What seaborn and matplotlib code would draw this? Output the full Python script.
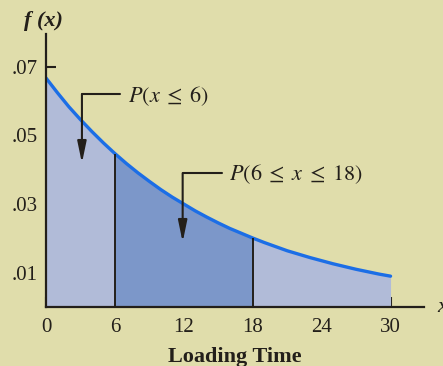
import matplotlib
matplotlib.use('Agg')
import matplotlib.pyplot as plt
import seaborn as sns
import pandas as pd

# values (density of loading time)
loading_time = list(range(0, 31))
density = [0.0667, 0.0624, 0.0583, 0.0546, 0.0511, 0.0478, 0.0447, 0.0418,
           0.0391, 0.0366, 0.0342, 0.0320, 0.0300, 0.0280, 0.0262, 0.0245,
           0.0229, 0.0215, 0.0201, 0.0188, 0.0176, 0.0164, 0.0154, 0.0144,
           0.0135, 0.0126, 0.0118, 0.0110, 0.0103, 0.0096, 0.0090]
x_ticks = [0, 6, 12, 18, 24, 30]
y_ticks = [0.01, 0.03, 0.05, 0.07]
y_tick_labels = ['.01', '.03', '.05', '.07']
lo, hi = 6, 18

df = pd.DataFrame({'x': loading_time, 'f': density})

bg = '#e0ddab'
light = '#b1bbd8'
dark = '#7c97c9'
curve = '#1c6ee6'
ink = '#231f1a'

sns.set_style('ticks')
plt.rcParams['font.family'] = ['Liberation Serif', 'DejaVu Serif']
plt.rcParams['mathtext.fontset'] = 'stix'

fig = plt.figure(figsize=(4.43, 3.66), dpi=100)
fig.patch.set_facecolor(bg)
ax = fig.add_axes([0.1038, 0.161, 0.853, 0.746])
ax.set_facecolor(bg)

ax.fill_between(df['x'], df['f'], color=light, lw=0)
mid = df[(df['x'] >= lo) & (df['x'] <= hi)]
ax.fill_between(mid['x'], mid['f'], color=dark, lw=0)
sns.lineplot(data=df, x='x', y='f', ax=ax, color=curve, lw=2.4)
for v in (lo, hi):
    ax.vlines(v, 0, df.loc[df['x'] == v, 'f'].iloc[0], color=ink, lw=1.4)

ax.set_xlim(0, 32.9)
ax.set_ylim(0, 0.0795)
ax.set_xticks(x_ticks)
ax.set_yticks(y_ticks)
ax.set_yticklabels(y_tick_labels)
ax.tick_params(direction='in', length=7, width=1.5, colors=ink, labelsize=15, pad=6)
ax.tick_params(axis='x', pad=8)
for s in ('top', 'right'):
    ax.spines[s].set_visible(False)
for s in ('left', 'bottom'):
    ax.spines[s].set_linewidth(1.6)
    ax.spines[s].set_color(ink)
ax.set_xlabel('')
ax.set_ylabel('')

# annotations
ah = dict(arrowstyle='-|>,head_length=1.3,head_width=0.27', color=ink, lw=1.5,
          shrinkA=0, shrinkB=0)
ax.plot([3.13, 6.43], [0.0620, 0.0620], color=ink, lw=1.5)
ax.annotate('', xy=(3.13, 0.0419), xytext=(3.13, 0.0620), arrowprops=ah)
ax.text(7.15, 0.0614, r'$P(x \;\leq\; 6)$', fontsize=16, color=ink, va='center', ha='left')

ax.plot([11.9, 15.3], [0.0390, 0.0390], color=ink, lw=1.5)
ax.annotate('', xy=(11.9, 0.0189), xytext=(11.9, 0.0390), arrowprops=ah)
ax.text(15.9, 0.0386, r'$P(6 \;\leq\; x \;\leq\; 18)$', fontsize=16, color=ink,
        va='center', ha='left')

fig.text(0.099, 0.943, 'f (x)', fontsize=16, fontweight='bold', style='italic',
         color=ink, ha='center', va='center')
fig.text(0.986, 0.161, 'x', fontsize=16, style='italic', color=ink, ha='left', va='center')
fig.text(0.53, 0.025, 'Loading Time', fontsize=16, fontweight='bold', color=ink,
         ha='center', va='center')

fig.savefig('out.png', dpi=100, facecolor=bg)
